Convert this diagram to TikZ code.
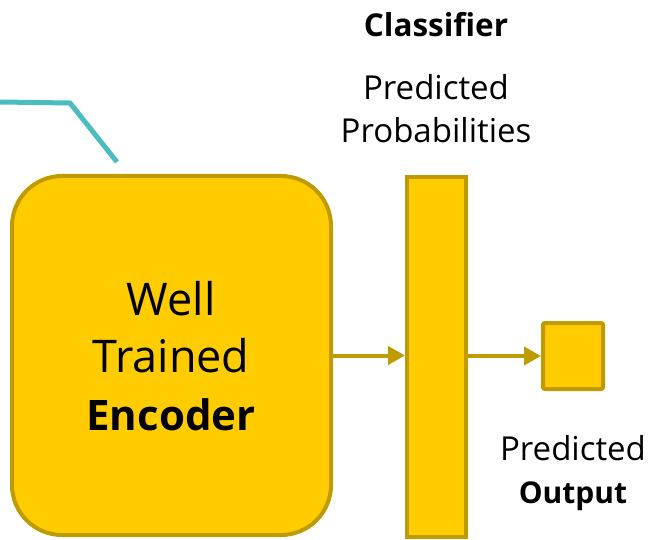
\documentclass[tikz,border=0pt]{standalone}
\usepackage{fontspec}
\setmainfont{Open Sans}
\usetikzlibrary{positioning,arrows.meta}
\definecolor{gold}{HTML}{FFCC00}
\definecolor{darkgold}{HTML}{BF9B00}
\definecolor{tealline}{HTML}{4BBCC0}

\begin{document}
\begin{tikzpicture}[
  x=1pt, y=-1pt,
  block/.style={draw=darkgold, fill=gold, line width=4pt, inner sep=0pt},
  flow/.style={draw=darkgold, line width=4pt, -{Triangle[length=17pt,width=18pt]}},
  big/.style={font=\fontsize{45}{57.5}\selectfont, align=center},
  note/.style={font=\fontsize{33}{43}\selectfont, align=center, inner sep=0pt},
  ]
  \useasboundingbox (0,0) rectangle (653,540);
  % boxes
  \node [block, rounded corners=50pt, minimum width=319pt, minimum height=359pt]
    (encoder) at (171.5,355.5) {};
  \node [block, minimum width=59pt, minimum height=360pt] (bar) at (436.5,357) {};
  \node [block, rounded corners=2pt, minimum width=60pt, minimum height=66pt]
    (output) at (573,356) {};
  % connectors
  \draw [flow] (encoder.east) -- (bar.west |- encoder.east);
  \draw [flow] (bar.east |- output.west) -- (output.west);
  \coordinate (tail) at (0,102);
  \coordinate (bend) at (70,103);
  \coordinate (tip) at (117,162);
  \draw [tealline, line width=5pt] (tail) -- (bend) -- (tip);
  % texts
  \node [big, anchor=base] (encoder-text) at (171,430)
    {Well\\Trained\\{\fontsize{42}{57.5}\selectfont\bfseries Encoder}};
  \node [note, anchor=base, font=\fontsize{31.5}{43}\selectfont\bfseries]
    (classifier) at (436,37) {Classifier};
  \node [note, anchor=base] (probs) at (436,143) {Predicted\\Probabilities};
  \node [note, anchor=base] (result) at (573,503)
    {Predicted\\{\fontsize{30}{43}\selectfont\bfseries Output}};
\end{tikzpicture}
\end{document}
